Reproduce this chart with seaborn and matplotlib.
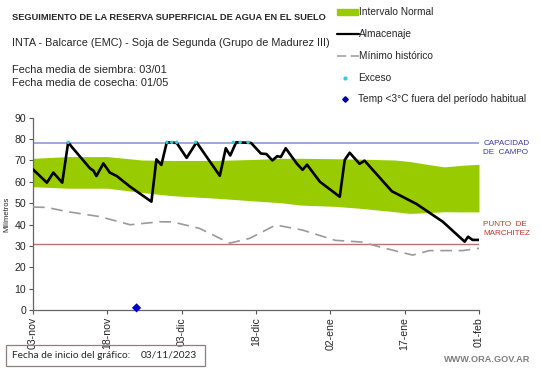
import numpy as np
import pandas as pd
import matplotlib
matplotlib.use("Agg")
import matplotlib.pyplot as plt
import seaborn as sns
from matplotlib.lines import Line2D
from matplotlib.patches import Rectangle

# ── DATA ─────────────────────────────────────────────────────────────────────
START = pd.Timestamp("2023-11-03")

# Intervalo normal (banda verde): dias desde el inicio, borde sup / inf
band_days  = [0, 7, 15, 22, 28, 37, 45, 50, 54, 61, 66, 73, 76, 80, 83, 87, 90]
band_upper = [71.0, 71.8, 71.8, 70.2, 70.0, 70.0, 70.5, 71.0, 71.0, 70.8, 70.6,
              70.2, 69.5, 68.0, 67.0, 67.8, 68.2]
band_lower = [57.7, 57.0, 57.0, 55.0, 53.5, 52.3, 51.0, 50.2, 49.1, 48.5, 47.6,
              46.0, 45.2, 45.6, 46.0, 45.9, 45.9]

# Almacenaje (linea negra)
alm_days = [0, 2.8, 4.1, 5.9, 7.1, 7.8, 11.5, 12.2, 12.8, 14.2, 15.5, 16.9, 19.6,
            23.9, 24.9, 25.9, 27.0, 29.0, 31.0, 33.0, 37.7, 38.9, 39.8, 41.0,
            44.0, 46.0, 47.1, 48.3, 49.3, 50.0, 51.0, 53.2, 54.4, 55.3, 57.9,
            61.9, 62.9, 63.9, 65.9, 66.9, 72.4, 77.4, 82.7, 87.1, 87.8, 88.7, 90]
alm_vals = [65.8, 59.6, 64.3, 59.6, 78.5, 76.4, 66.3, 65.2, 62.7, 68.6, 64.3, 62.7,
            57.7, 50.7, 70.5, 67.9, 78.5, 78.2, 71.2, 78.5, 62.8, 75.7, 72.3, 78.5,
            78.2, 73.2, 73.0, 70.0, 72.0, 71.6, 75.7, 68.6, 65.6, 68.0, 60.0,
            53.0, 70.2, 73.6, 68.4, 69.9, 55.6, 49.6, 41.3, 32.0, 34.3, 32.8, 32.8]

# Minimo historico (gris discontinua)
min_days = [0, 2.8, 7, 13.5, 19.6, 25.6, 28.2, 33.6, 39.7, 43.7, 49.0, 54.4,
            61.0, 66.4, 70, 76.6, 80, 86.7, 90]
min_vals = [48.2, 48.0, 46.0, 43.7, 39.9, 41.3, 41.2, 38.2, 31.3, 33.5, 39.8, 37.4,
            32.6, 31.8, 29.5, 25.7, 27.8, 27.8, 28.9]

# Exceso (puntos cian) y helada fuera de periodo (rombo azul)
exc_days = [7.1, 27.0, 28.0, 29.0, 32.8, 40.4, 41.8, 43.4]
exc_vals = [78.5] * len(exc_days)
frost_days = [20.9]
frost_vals = [1.0]

CAPACIDAD = 78.3
MARCHITEZ = 31.0

tick_labels = ["03-nov", "18-nov", "03-dic", "18-dic", "02-ene", "17-ene", "01-feb"]
tick_days = [0, 15, 30, 45, 60, 75, 90]

# ── STYLE ────────────────────────────────────────────────────────────────────
sns.set_style("white")
plt.rcParams["font.family"] = ["Liberation Sans", "DejaVu Sans"]

GREEN = "#99cc00"
GRAY = "#9a9a9a"
CYAN = "#33ccdd"
BLUE_LINE = "#8c9bd6"
RED_LINE = "#c07070"

to_date = lambda d: START + pd.to_timedelta(np.asarray(d, dtype=float), unit="D")

fig = plt.figure(figsize=(5.41, 3.68), dpi=100)
ax = fig.add_axes([33 / 541, 1 - 310 / 368, 446 / 541, 192.3 / 368])

ax.fill_between(to_date(band_days), band_lower, band_upper,
                color=GREEN, lw=0, zorder=1)
ax.axhline(CAPACIDAD, color=BLUE_LINE, lw=1.2, zorder=2)
ax.axhline(MARCHITEZ, color=RED_LINE, lw=1.0, zorder=2)

sns.lineplot(x=to_date(min_days), y=min_vals, ax=ax, color=GRAY, lw=1.2,
             zorder=3).lines[-1].set_dashes([7, 4])
sns.lineplot(x=to_date(alm_days), y=alm_vals, ax=ax, color="black", lw=1.9,
             zorder=4, solid_joinstyle="round")
sns.scatterplot(x=to_date(exc_days), y=exc_vals, ax=ax, color=CYAN, s=6,
                edgecolor="none", zorder=5)
sns.scatterplot(x=to_date(frost_days), y=frost_vals, ax=ax, color="#0000cc",
                marker="D", s=22, edgecolor="none", zorder=5, clip_on=False)

ax.set_xlim(to_date([0])[0], to_date([90])[0])
ax.set_ylim(0, 90)
ax.set_yticks(range(0, 91, 10))
ax.set_xticks(to_date(tick_days))
ax.set_xticklabels(tick_labels, rotation=90)
ax.tick_params(axis="both", labelsize=7.6, length=3, width=0.8, color="#555555",
               direction="out", pad=2)
ax.tick_params(axis="x", bottom=True)
ax.tick_params(axis="y", left=True)
for s in ["top", "right"]:
    ax.spines[s].set_visible(False)
for s in ["left", "bottom"]:
    ax.spines[s].set_color("#666666")
    ax.spines[s].set_linewidth(0.9)
ax.set_ylabel("Milímetros", fontsize=5.5, labelpad=3)
ax.set_xlabel("")

# labels at right of plot
ax.text(1.01, 79.5, "CAPACIDAD\nDE  CAMPO", transform=ax.get_yaxis_transform(),
        fontsize=5.9, color="#3a3aa8", va="top", ha="left", linespacing=1.45)
ax.text(1.01, 41.8, "PUNTO  DE\nMARCHITEZ", transform=ax.get_yaxis_transform(),
        fontsize=5.9, color="#c0392b", va="top", ha="left", linespacing=1.45)

# ── HEADER TEXT ──────────────────────────────────────────────────────────────
W, H = 541, 368
fx = lambda px: px / W
fy = lambda py: 1 - py / H

fig.text(fx(12), fy(17), "SEGUIMIENTO DE LA RESERVA SUPERFICIAL DE AGUA EN EL SUELO",
         fontsize=6.7, fontweight="bold", va="center")
fig.text(fx(12), fy(43), "INTA - Balcarce (EMC) - Soja de Segunda (Grupo de Madurez III)",
         fontsize=7.8, va="center")
fig.text(fx(12), fy(70), "Fecha media de siembra: 03/01", fontsize=7.9, va="center")
fig.text(fx(12), fy(83), "Fecha media de cosecha: 01/05", fontsize=7.9, va="center")

# ── LEGEND (manual) ──────────────────────────────────────────────────────────
leg_fs = 7.3
fig.add_artist(Rectangle((fx(337), fy(15)), fx(21), 6 / H, color=GREEN,
                         transform=fig.transFigure))
fig.text(fx(359), fy(12), "Intervalo Normal", fontsize=leg_fs, va="center")
fig.add_artist(Line2D([fx(337), fx(359)], [fy(34), fy(34)], color="black", lw=1.6))
fig.text(fx(359), fy(34), "Almacenaje", fontsize=leg_fs, va="center")
fig.add_artist(Line2D([fx(337), fx(359)], [fy(56), fy(56)], color=GRAY, lw=1.1,
                      dashes=[6, 3]))
fig.text(fx(359), fy(56), "Mínimo histórico", fontsize=leg_fs, va="center")
fig.add_artist(Line2D([fx(345)], [fy(78)], marker="o", ms=2, color=CYAN, lw=0))
fig.text(fx(358), fy(78), "Exceso", fontsize=leg_fs, va="center")
fig.add_artist(Line2D([fx(345)], [fy(99)], marker="D", ms=2.8, color="#0000aa", lw=0))
fig.text(fx(358), fy(99), "Temp <3°C fuera del período habitual",
         fontsize=leg_fs, va="center")

# ── FOOTER ───────────────────────────────────────────────────────────────────
fig.add_artist(Rectangle((fx(6), fy(366)), fx(199), 21 / H, fill=False,
                         edgecolor="#8a7f7f", lw=0.9, transform=fig.transFigure))
fig.text(fx(12), fy(355.5), "Fecha de inicio del gráfico:", fontsize=7.3,
         family="Lato", va="center")
fig.text(fx(141), fy(355.5), "03/11/2023", fontsize=7.3, family="Lato", va="center")
fig.text(fx(530), fy(359), "WWW.ORA.GOV.AR", fontsize=6.6, color="#7f7f7f",
         fontweight="bold", ha="right", va="center")

fig.savefig("out.png", dpi=100)
